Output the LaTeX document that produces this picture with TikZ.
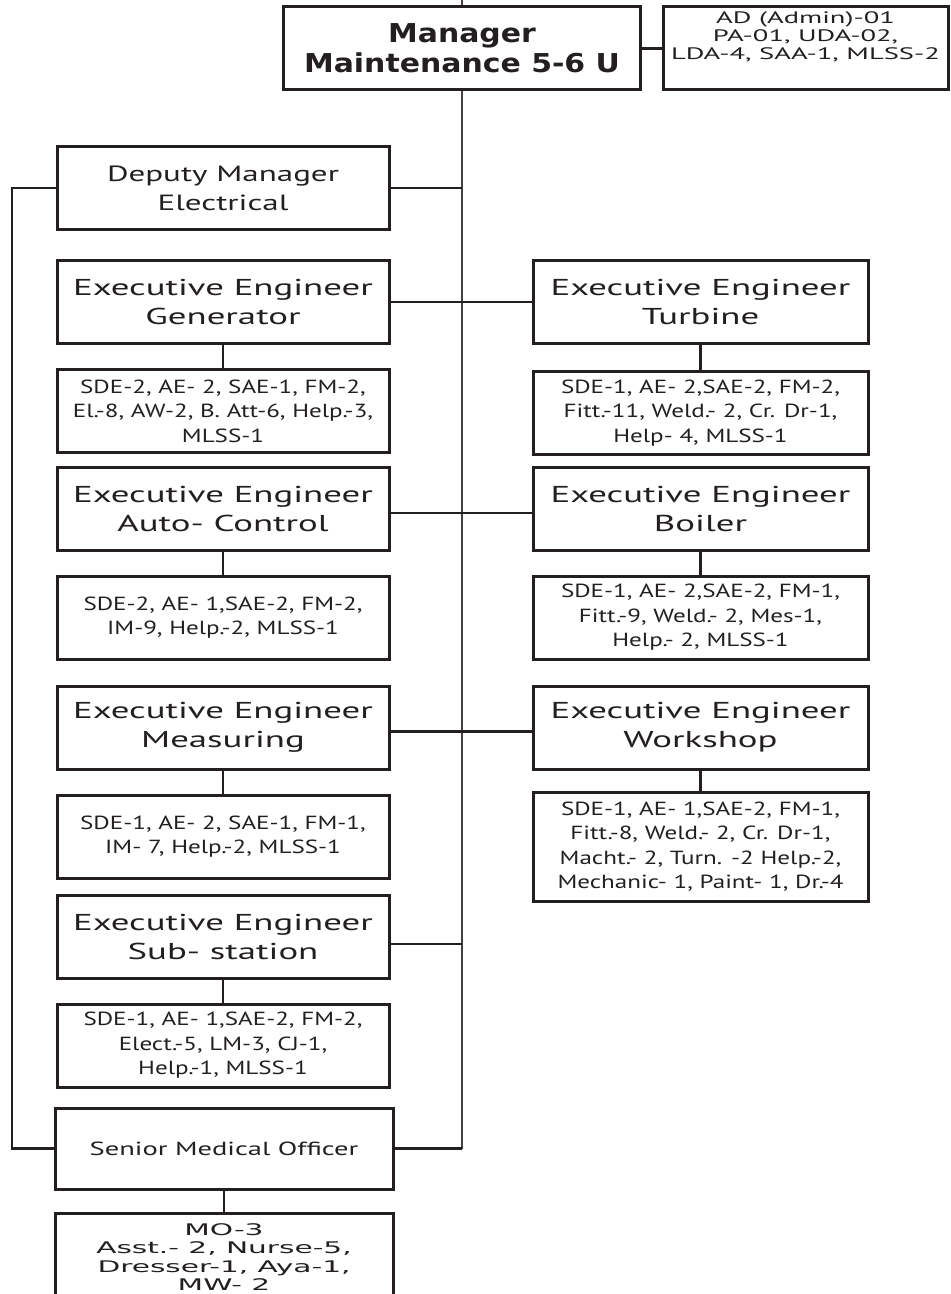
\documentclass[tikz,border=0pt]{standalone}
\usepackage{fontspec}
\setmainfont[FakeStretch=1.5]{PT Sans}
\newfontfamily\eefont[FakeStretch=1.6]{PT Sans}
\newfontfamily\stafffont[FakeStretch=1.32]{PT Sans}
\newfontfamily\adfont[FakeStretch=1.72]{PT Sans}
\newfontfamily\headfont[FakeStretch=1.15]{DejaVu Sans}
\newfontfamily\medfont[FakeStretch=1.85]{DejaVu Sans}
\usetikzlibrary{positioning}
\definecolor{ink}{HTML}{231F20}

\begin{document}
\begin{tikzpicture}[x=0.5pt, y=-0.5pt, node distance={11.5pt},
  main/.style = {draw=ink, line width=1.5pt, align=center, text=ink, minimum height=41.5pt, inner sep=2pt},
  head/.style = {main, font=\eefont\fontsize{11.5}{14.5}\selectfont},
  staff/.style = {main, font=\stafffont\fontsize{9.5}{12.2}\selectfont},
  lcol/.style = {minimum width=166pt},
  rcol/.style = {minimum width=167.5pt},
  link/.style = {draw=ink, line width=1.1pt},
  trunk/.style = {draw=ink!85, line width=0.9pt}]
\useasboundingbox (0,0) rectangle (950,1294);

\coordinate (0) at (462,0);
\coordinate (bus) at (12,188);
\node[main, minimum width=178.5pt, font=\headfont\bfseries\fontsize{13}{15}\selectfont] (1) at (462,48.5) {Manager\\Maintenance 5-6 U};
\node[main, minimum width=142.5pt, text depth=12.5pt, font=\adfont\fontsize{8.3}{9}\selectfont] (2) at (805.5,48.5) {AD (Admin)-01\\PA-01, UDA-02,\\LDA-4, SAA-1, MLSS-2};
\node[main, lcol, font=\fontsize{11}{14.5}\selectfont] (3) at (223,188) {Deputy Manager\\Electrical};

\node[head, lcol] (4) at (223,302) {Executive Engineer\\Generator};
\node[head, rcol] (5) at (700.5,302) {Executive Engineer\\Turbine};
\node[staff, lcol] (6) [below=of 4] {SDE-2, AE- 2, SAE-1, FM-2,\\El.-8, AW-2, B. Att-6, Help.-3,\\MLSS-1};
\node[staff, rcol] (7) [below=12.5pt of 5] {SDE-1, AE- 2,SAE-2, FM-2,\\Fitt.-11, Weld.- 2, Cr. Dr-1,\\Help- 4, MLSS-1};

\node[head, lcol] (8) at (223,508.5) {Executive Engineer\\Auto- Control};
\node[head, rcol] (9) at (700.5,508.5) {Executive Engineer\\Boiler};
\node[staff, lcol] (10) [below=of 8] {SDE-2, AE- 1,SAE-2, FM-2,\\IM-9, Help.-2, MLSS-1};
\node[staff, rcol] (11) [below=of 9] {SDE-1, AE- 2,SAE-2, FM-1,\\Fitt.-9, Weld.- 2, Mes-1,\\Help.- 2, MLSS-1};

\node[head, lcol] (12) at (223,727.5) {Executive Engineer\\Measuring};
\node[head, rcol] (13) at (700.5,727.5) {Executive Engineer\\Workshop};
\node[staff, lcol] (14) [below=of 12] {SDE-1, AE- 2, SAE-1, FM-1,\\IM- 7, Help.-2, MLSS-1};
\node[staff, rcol, minimum height=54.5pt] (15) [below=10pt of 13] {SDE-1, AE- 1,SAE-2, FM-1,\\Fitt.-8, Weld.- 2, Cr. Dr-1,\\Macht.- 2, Turn. -2 Help.-2,\\Mechanic- 1, Paint- 1, Dr.-4};

\node[head, lcol] (16) at (223,936.5) {Executive Engineer\\Sub- station};
\node[staff, lcol] (17) [below=of 16] {SDE-1, AE- 1,SAE-2, FM-2,\\Elect.-5, LM-3, CJ-1,\\Help.-1, MLSS-1};

\node[main, minimum width=169pt, minimum height=40.5pt, font=\fontsize{9.5}{12}\selectfont] (18) at (224,1148.5) {Senior Medical Officer};
\node[main, minimum width=169pt, minimum height=44pt, font=\medfont\fontsize{8}{9.2}\selectfont] (19) [below=10.5pt of 18] {MO-3\\Asst.- 2, Nurse-5,\\Dresser-1, Aya-1,\\MW- 2};

\draw[trunk] (0) -- (1);
\draw[trunk] (1) -- (1 |- 18);
\draw[link] (1) -- (2);
\draw[link] (3) -- (3 -| 1);
\draw[link] (4) -- (5);
\draw[link] ([yshift=-2.2pt]8.east) -- ([yshift=-2.2pt]8.east -| 9.west);
\draw[link] ([yshift=-2pt]12.east) -- ([yshift=-2pt]12.east -| 13.west);
\draw[link] ([yshift=-3.7pt]16.east) -- ([yshift=-3.7pt]16.east -| 1);
\draw[link] (18) -- (18 -| 1);
\draw[link] (3) -- (bus) |- (18);

\draw[link] (4) -- (6);
\draw[link] (5) -- (7);
\draw[link] (8) -- (10);
\draw[link] (9) -- (11);
\draw[link] (12) -- (14);
\draw[link] (13) -- (15);
\draw[link] (16) -- (17);
\draw[link] (18) -- (19);
\end{tikzpicture}
\end{document}
